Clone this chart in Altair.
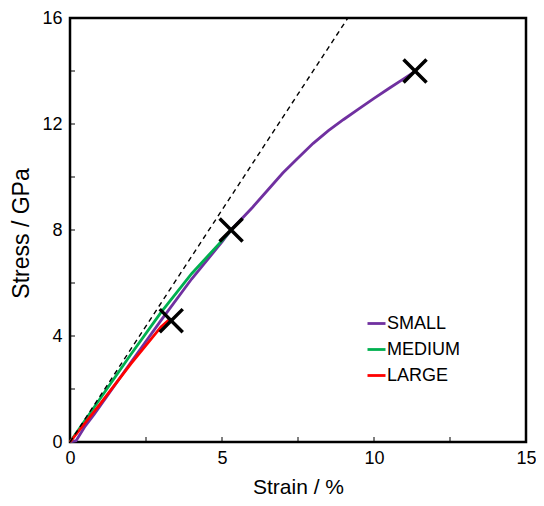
import altair as alt
import pandas as pd

series_names = ["SMALL", "MEDIUM", "LARGE"]
series_colors = ["#7030A0", "#00B050", "#FF0000"]

small_x = [0, 0.2, 0.5, 0.8, 1.2, 2.0, 3.0, 4.0, 5.0, 5.3, 6.0, 6.5, 7.0, 7.5, 8.0, 8.5, 9.0, 9.5, 10.0, 10.5, 11.0, 11.3]
small_y = [0, 0.05, 0.6, 1.05, 1.7, 3.0, 4.6, 6.15, 7.55, 8.0, 8.85, 9.5, 10.15, 10.72, 11.27, 11.75, 12.17, 12.57, 12.97, 13.35, 13.72, 13.95]

medium_x = [0, 1.0, 2.0, 3.0, 4.0, 5.0, 5.3]
medium_y = [0, 1.65, 3.3, 4.9, 6.35, 7.6, 8.0]

large_x = [0, 1.0, 2.0, 3.0, 3.25]
large_y = [0, 1.45, 2.95, 4.35, 4.6]

break_x = [3.33, 5.3, 11.35]
break_y = [4.58, 8.0, 14.0]

dash_x = [0, 9.14]
dash_y = [0, 16]

x_minor_ticks = [2.5, 5, 7.5, 10, 12.5]
y_minor_ticks = [2, 4, 6, 8, 10, 12, 14]
x_labels = [0, 5, 10, 15]
y_labels = [0, 4, 8, 12, 16]

rows = []
for name, xs, ys in [("SMALL", small_x, small_y), ("MEDIUM", medium_x, medium_y), ("LARGE", large_x, large_y)]:
    for i, (a, b) in enumerate(zip(xs, ys)):
        rows.append({"series": name, "strain": a, "stress": b, "order": i})
df = pd.DataFrame(rows)
df_break = pd.DataFrame({"strain": break_x, "stress": break_y})
df_dash = pd.DataFrame({"strain": dash_x, "stress": dash_y})
df_xt = pd.DataFrame({"strain": x_minor_ticks})
df_yt = pd.DataFrame({"stress": y_minor_ticks})

W, H = 456, 424
FONT = "Liberation Sans"

xscale = alt.Scale(domain=[0, 15], nice=False, zero=False)
yscale = alt.Scale(domain=[0, 16], nice=False, zero=False)

xaxis = alt.Axis(values=x_labels, title="Strain / %", grid=False, domain=False, ticks=False,
                 labelFontSize=18, labelPadding=7, labelFont=FONT, labelColor="black", labelFlush=False,
                 titleFontSize=21, titleFont=FONT, titleFontWeight="normal", titleColor="black",
                 titleX=W / 2, titleY=51, titleBaseline="alphabetic")
yaxis = alt.Axis(values=y_labels, title="Stress / GPa", grid=False, domain=False, ticks=False,
                 labelFontSize=18, labelPadding=8, labelFont=FONT, labelColor="black", labelFlush=False,
                 titleFontSize=23, titleFont=FONT, titleFontWeight="normal", titleColor="black",
                 titleX=-42, titleY=215, titleBaseline="alphabetic", titleAngle=270)

lines = alt.Chart(df).mark_line(strokeWidth=2.8).encode(
    x=alt.X("strain:Q", scale=xscale, axis=xaxis),
    y=alt.Y("stress:Q", scale=yscale, axis=yaxis),
    color=alt.Color("series:N", scale=alt.Scale(domain=series_names, range=series_colors),
                    sort=series_names,
                    legend=alt.Legend(title=None, orient="none", legendX=296, legendY=295,
                                      symbolType="stroke", symbolSize=324, symbolStrokeWidth=2.8,
                                      labelFontSize=18, labelFont=FONT, labelColor="black",
                                      rowPadding=6, labelOffset=0, padding=0)),
    order="order:Q",
)

dash = alt.Chart(df_dash).mark_line(color="black", strokeWidth=1.4, strokeDash=[5, 4]).encode(
    x=alt.X("strain:Q", scale=xscale), y=alt.Y("stress:Q", scale=yscale)
)

crosses = alt.Chart(df_break).mark_point(
    shape="M-1,-1L1,1M1,-1L-1,1", size=530, stroke="black", strokeWidth=3.5, filled=False, opacity=1
).encode(x=alt.X("strain:Q", scale=xscale), y=alt.Y("stress:Q", scale=yscale))

xt = alt.Chart(df_xt).mark_rule(color="black", strokeWidth=1).encode(
    x=alt.X("strain:Q", scale=xscale), y=alt.value(H), y2=alt.value(H - 5)
)
yt = alt.Chart(df_yt).mark_rule(color="black", strokeWidth=1).encode(
    y=alt.Y("stress:Q", scale=yscale), x=alt.value(0), x2=alt.value(5)
)

chart = alt.layer(xt, yt, lines, dash, crosses).properties(
    width=W, height=H,
    background="white",
    autosize=alt.AutoSizeParams(type="none"),
    padding={"left": 62, "top": 10, "right": 10, "bottom": 56},
).configure_view(stroke="black", strokeWidth=2.5)

chart.save("out.html", embed_options={"renderer": "svg", "actions": False})
